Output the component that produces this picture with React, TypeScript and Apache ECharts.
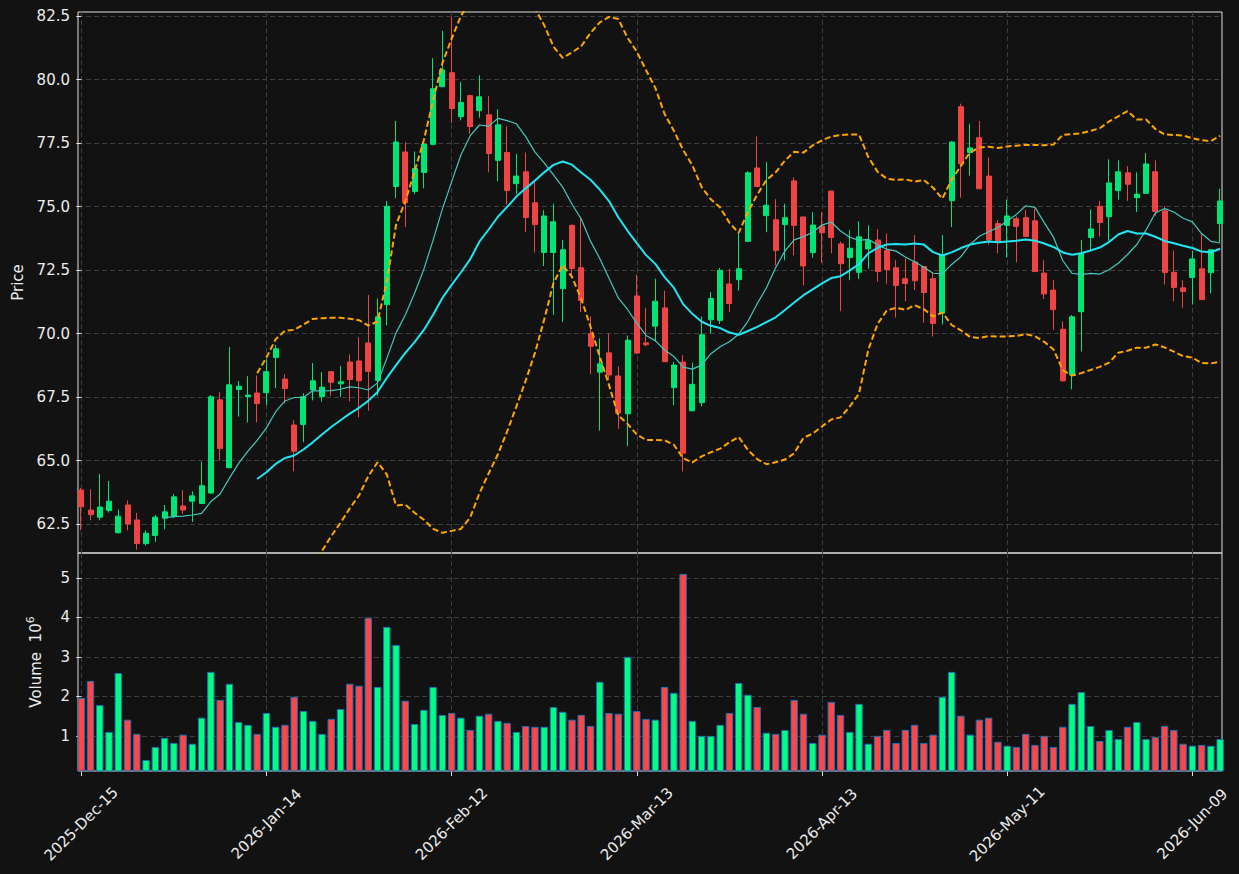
import React, { useEffect, useRef } from 'react';
import * as echarts from 'echarts';

// ---- data ----
const opens = [
  63.84, 63.05, 62.77, 63.03, 62.16, 63.25, 62.66, 61.73, 62.05, 62.73,
  62.80, 63.21, 63.40, 63.31, 63.72, 67.39, 64.72, 67.80, 67.52, 67.66,
  67.67, 69.06, 68.21, 66.40, 66.42, 67.78, 67.52, 68.50, 68.02, 68.88,
  68.92, 69.63, 68.15, 71.14, 75.79, 77.15, 75.59, 76.34, 77.45, 79.72,
  80.27, 78.54, 79.37, 78.78, 78.61, 76.82, 77.13, 75.90, 76.37, 75.15,
  73.19, 73.19, 71.77, 74.26, 72.59, 70.00, 68.48, 69.24, 68.33, 66.84,
  71.48, 69.63, 70.29, 71.01, 67.87, 68.88, 66.96, 67.28, 70.54, 70.52,
  71.95, 72.12, 73.63, 76.52, 74.64, 74.48, 74.29, 76.01, 74.59, 73.19,
  74.23, 75.61, 73.53, 72.99, 72.41, 73.33, 73.68, 73.27, 72.59, 72.16,
  72.82, 72.64, 72.16, 70.80, 75.23, 78.93, 77.13, 77.71, 76.20, 74.33,
  74.26, 74.52, 74.56, 74.44, 72.38, 71.71, 70.17, 68.37, 70.86, 73.78,
  75.01, 74.60, 75.63, 76.33, 75.35, 75.52, 76.37, 74.83, 72.41, 71.80,
  72.21, 72.55, 72.40, 74.33,
];
const highs = [
  63.92, 63.87, 64.47, 64.20, 63.07, 63.43, 62.94, 62.25, 62.86, 63.25,
  63.68, 63.83, 63.79, 64.96, 67.58, 67.69, 69.47, 68.13, 68.32, 68.35,
  68.99, 69.56, 68.40, 66.59, 67.65, 68.84, 68.48, 68.52, 68.73, 69.18,
  69.86, 71.52, 71.38, 75.22, 78.37, 77.54, 77.17, 77.50, 80.84, 81.92,
  82.47, 79.90, 79.40, 80.17, 79.35, 78.83, 78.16, 77.07, 77.13, 76.04,
  74.86, 75.11, 73.68, 74.30, 74.60, 70.67, 69.81, 70.00, 68.71, 69.92,
  72.32, 71.01, 72.16, 71.69, 68.89, 69.15, 68.85, 70.67, 71.63, 72.58,
  72.55, 73.96, 76.39, 77.76, 76.75, 75.29, 75.11, 76.15, 74.60, 74.78,
  74.78, 75.62, 73.62, 74.07, 74.42, 74.26, 74.11, 73.94, 72.89, 72.96,
  73.88, 72.65, 72.37, 73.88, 77.57, 79.05, 78.26, 78.37, 76.93, 74.46,
  75.27, 74.61, 74.87, 74.92, 72.89, 72.10, 70.48, 70.73, 73.68, 74.89,
  75.22, 76.86, 76.82, 76.59, 76.35, 77.11, 76.82, 75.01, 73.27, 72.10,
  73.26, 73.92, 73.30, 75.70,
];
const lows = [
  62.25, 62.65, 62.65, 62.95, 62.13, 62.25, 61.49, 61.65, 61.80, 62.29,
  62.73, 62.90, 62.58, 63.30, 63.70, 65.00, 64.70, 66.73, 66.50, 66.50,
  67.18, 67.85, 67.25, 64.58, 65.72, 67.37, 67.32, 67.54, 67.50, 67.33,
  66.70, 66.96, 67.55, 70.33, 75.33, 74.19, 75.49, 75.72, 77.41, 79.70,
  78.30, 78.39, 77.86, 78.50, 76.35, 76.00, 75.08, 75.49, 73.99, 73.19,
  72.66, 70.73, 70.45, 72.23, 70.84, 68.40, 66.18, 68.17, 66.25, 65.57,
  69.20, 69.50, 69.67, 68.88, 67.18, 64.57, 66.94, 67.13, 70.00, 70.38,
  70.84, 71.69, 73.60, 75.78, 73.99, 72.68, 72.88, 73.08, 71.90, 72.99,
  72.79, 73.16, 70.88, 72.10, 72.14, 72.55, 72.04, 71.96, 70.63, 71.27,
  71.71, 70.43, 69.88, 70.36, 74.19, 75.35, 76.22, 75.70, 73.51, 73.16,
  72.99, 72.81, 73.80, 72.44, 71.36, 70.15, 68.10, 67.80, 69.30, 73.30,
  73.82, 73.65, 75.27, 75.22, 74.78, 75.50, 74.64, 71.93, 71.27, 71.01,
  71.15, 71.32, 71.59, 73.60,
];
const closes = [
  63.18, 62.87, 63.17, 63.40, 62.81, 62.50, 61.73, 62.14, 62.77, 62.98,
  63.57, 63.05, 63.61, 64.01, 67.51, 65.47, 67.98, 67.93, 67.58, 67.24,
  68.50, 69.40, 67.84, 65.37, 67.51, 68.14, 67.89, 68.08, 68.10, 68.19,
  68.14, 68.51, 70.66, 75.01, 77.54, 75.16, 76.50, 77.46, 79.64, 80.38,
  78.86, 79.10, 78.15, 79.32, 77.09, 78.22, 75.63, 76.20, 74.57, 74.29,
  74.63, 74.40, 73.30, 72.56, 71.30, 69.50, 68.81, 68.37, 66.87, 69.74,
  69.23, 69.56, 71.27, 68.89, 68.76, 65.29, 68.00, 69.95, 71.38, 72.49,
  71.18, 72.55, 76.33, 75.79, 75.05, 73.27, 74.56, 74.26, 72.66, 74.27,
  73.97, 73.78, 72.75, 73.36, 73.81, 73.66, 72.44, 72.52, 71.89, 71.97,
  72.08, 71.62, 70.40, 73.10, 77.54, 76.68, 77.31, 75.70, 73.68, 73.64,
  74.63, 74.22, 73.82, 72.44, 71.56, 70.94, 68.14, 70.66, 73.16, 74.12,
  74.37, 75.93, 76.37, 75.88, 75.49, 76.68, 74.81, 72.40, 71.81, 71.66,
  72.94, 71.34, 73.30, 75.22,
];
// volume in millions
const volumes = [
  1.96, 2.39, 1.78, 1.10, 2.59, 1.41, 1.05, 0.39, 0.72, 0.95,
  0.82, 1.03, 0.80, 1.46, 2.62, 1.91, 2.32, 1.35, 1.28, 1.05,
  1.58, 1.23, 1.28, 1.99, 1.63, 1.38, 1.05, 1.43, 1.68, 2.32,
  2.27, 3.99, 2.24, 3.76, 3.30, 1.89, 1.30, 1.66, 2.24, 1.53,
  1.58, 1.46, 1.15, 1.51, 1.56, 1.38, 1.33, 1.10, 1.25, 1.23,
  1.23, 1.73, 1.61, 1.41, 1.53, 1.25, 2.37, 1.58, 1.56, 3.00,
  1.63, 1.43, 1.41, 2.24, 2.09, 5.10, 1.38, 1.00, 1.00, 1.28,
  1.58, 2.34, 2.04, 1.73, 1.08, 1.05, 1.15, 1.91, 1.56, 0.82,
  1.03, 1.86, 1.53, 1.10, 1.81, 0.80, 1.00, 1.15, 0.82, 1.15,
  1.28, 0.82, 1.03, 1.99, 2.62, 1.51, 1.03, 1.41, 1.46, 0.85,
  0.75, 0.72, 1.05, 0.77, 1.00, 0.72, 1.23, 1.81, 2.11, 1.25,
  0.87, 1.15, 0.92, 1.23, 1.35, 0.92, 0.97, 1.25, 1.15, 0.80,
  0.75, 0.77, 0.75, 0.92,
];
const startDate = '2025-12-15';
const marketHolidays = ['2025-12-25', '2026-01-01', '2026-01-19', '2026-02-16', '2026-04-03', '2026-05-25'];
const tickIndices = [0, 20, 40, 60, 80, 100, 120];
const priceTicks = [62.5, 65.0, 67.5, 70.0, 72.5, 75.0, 77.5, 80.0, 82.5];
const volumeTicks = [1, 2, 3, 4, 5];
const maShort = 10;
const maLong = 20;
const bbMult = 2;

const MONTHS = ['Jan', 'Feb', 'Mar', 'Apr', 'May', 'Jun', 'Jul', 'Aug', 'Sep', 'Oct', 'Nov', 'Dec'];

function tradingDays(start: string, n: number, skip: string[]): string[] {
  const out: string[] = [];
  const d = new Date(start + 'T00:00:00Z');
  while (out.length < n) {
    const dow = d.getUTCDay();
    const iso = d.toISOString().slice(0, 10);
    if (dow !== 0 && dow !== 6 && !skip.includes(iso)) {
      out.push(`${d.getUTCFullYear()}-${MONTHS[d.getUTCMonth()]}-${String(d.getUTCDate()).padStart(2, '0')}`);
    }
    d.setUTCDate(d.getUTCDate() + 1);
  }
  return out;
}

function sma(vals: number[], n: number): (number | null)[] {
  return vals.map((_, i) => {
    if (i < n - 1) return null;
    let s = 0;
    for (let k = i - n + 1; k <= i; k++) s += vals[k];
    return s / n;
  });
}
function rollingStd(vals: number[], n: number): (number | null)[] {
  return vals.map((_, i) => {
    if (i < n - 1) return null;
    let s = 0;
    for (let k = i - n + 1; k <= i; k++) s += vals[k];
    const m = s / n;
    let v = 0;
    for (let k = i - n + 1; k <= i; k++) v += (vals[k] - m) * (vals[k] - m);
    return Math.sqrt(v / n);
  });
}

const FONT = 'DejaVu Sans';
const TXT = '#ececec';
const SPINE = '#e0e0e0';
const GRIDC = '#3e3e3e';
const BG = '#121212';
const UP = '#00e676';
const DOWN = '#ef4444';
const VUP = '#00ff80';
const VDOWN = '#ff4646';
const X_MIN = -0.35;
const X_MAX = 123.2;

export default function App() {
  const ref = useRef<HTMLDivElement>(null);
  useEffect(() => {
    if (!ref.current) return;
    const chart = echarts.init(ref.current, undefined, { renderer: 'svg' });
    const N = closes.length;
    const dates = tradingDays(startDate, N, marketHolidays);
    const ma10 = sma(closes, maShort);
    const ma20 = sma(closes, maLong);
    const sd20 = rollingStd(closes, maLong);
    const toPts = (arr: (number | null)[]) =>
      arr.map((v, i) => (v == null ? null : [i, v])).filter((p) => p !== null);
    const upper = ma20.map((m, i) => (m == null ? null : m + bbMult * (sd20[i] as number)));
    const lower = ma20.map((m, i) => (m == null ? null : m - bbMult * (sd20[i] as number)));

    const splitLine = { show: true, lineStyle: { color: GRIDC, type: [5, 3], width: 1 } };

    const option: any = {
      animation: false,
      backgroundColor: BG,
      textStyle: { fontFamily: FONT },
      grid: [
        { left: 78, top: 12, width: 1144, height: 541, show: true, borderColor: SPINE, borderWidth: 1, backgroundColor: 'transparent' },
        { left: 78, top: 553, width: 1144, height: 218, show: true, borderColor: SPINE, borderWidth: 1, backgroundColor: 'transparent' },
      ],
      xAxis: [
        {
          type: 'value', gridIndex: 0, min: X_MIN, max: X_MAX,
          axisLine: { show: false, onZero: false },
          axisTick: { show: false, customValues: tickIndices },
          axisLabel: { show: false, customValues: tickIndices },
          splitLine,
        },
        {
          type: 'value', gridIndex: 1, min: X_MIN, max: X_MAX,
          axisLine: { show: false, onZero: false },
          axisTick: { show: true, customValues: tickIndices, length: 5, lineStyle: { color: SPINE } },
          axisLabel: {
            customValues: tickIndices,
            formatter: (v: number) => dates[Math.round(v)] ?? '',
            rotate: 45, align: 'center', verticalAlign: 'middle', margin: 53,
            color: TXT, fontSize: 15, fontFamily: FONT,
          },
          splitLine,
        },
      ],
      yAxis: [
        {
          type: 'value', gridIndex: 0, min: 61.36, max: 82.66,
          name: 'Price', nameLocation: 'middle', nameGap: 52, nameRotate: 90,
          nameTextStyle: { color: TXT, fontSize: 15, fontFamily: FONT },
          axisLine: { show: false },
          axisTick: { show: true, customValues: priceTicks, length: 5, lineStyle: { color: SPINE } },
          axisLabel: { customValues: priceTicks, formatter: (v: number) => v.toFixed(1), color: TXT, fontSize: 15, margin: 8, fontFamily: FONT },
          splitLine,
        },
        {
          type: 'value', gridIndex: 1, min: 0.11, max: 5.63,
          name: 'Volume  10{sup|6}', nameLocation: 'middle', nameGap: 31, nameRotate: 90,
          nameTextStyle: {
            color: TXT, fontSize: 15, fontFamily: FONT, lineHeight: 22,
            rich: { sup: { fontSize: 11, color: TXT, fontFamily: FONT, verticalAlign: 'top', lineHeight: 11 } },
          },
          axisLine: { show: false },
          axisTick: { show: true, customValues: volumeTicks, length: 5, lineStyle: { color: SPINE } },
          axisLabel: { customValues: volumeTicks, formatter: (v: number) => String(Math.round(v)), color: TXT, fontSize: 15, margin: 8, fontFamily: FONT },
          splitLine,
        },
      ],
      series: [
        {
          type: 'candlestick', xAxisIndex: 0, yAxisIndex: 0, barWidth: 5.5,
          encode: { x: 0, y: [1, 2, 3, 4] },
          data: closes.map((c, i) => [i, opens[i], c, lows[i], highs[i]]),
          itemStyle: { color: UP, color0: DOWN, borderColor: UP, borderColor0: DOWN, borderWidth: 1 },
        },
        {
          type: 'line', xAxisIndex: 0, yAxisIndex: 0, data: toPts(ma10), symbol: 'none',
          lineStyle: { color: '#45c8be', width: 1.2 },
        },
        {
          type: 'line', xAxisIndex: 0, yAxisIndex: 0, data: toPts(ma20), symbol: 'none',
          lineStyle: { color: '#1fe6f2', width: 2 },
        },
        {
          type: 'line', xAxisIndex: 0, yAxisIndex: 0, data: toPts(upper), symbol: 'none',
          lineStyle: { color: '#ffa500', width: 2, type: [6, 3] },
        },
        {
          type: 'line', xAxisIndex: 0, yAxisIndex: 0, data: toPts(lower), symbol: 'none',
          lineStyle: { color: '#ffa500', width: 2, type: [6, 3] },
        },
        {
          type: 'bar', xAxisIndex: 1, yAxisIndex: 1, barWidth: 7.4,
          data: volumes.map((v, i) => ({
            value: [i, v],
            itemStyle: { color: closes[i] >= opens[i] ? VUP : VDOWN },
          })),
          itemStyle: { borderColor: '#1f6fb4', borderWidth: 1 },
        },
      ],
    };
    chart.setOption(option);
    return () => chart.dispose();
  }, []);
  return (
    <div
      ref={ref}
      style={{ position: 'fixed', left: 0, top: 0, width: 1239, height: 874, background: BG }}
    />
  );
}
